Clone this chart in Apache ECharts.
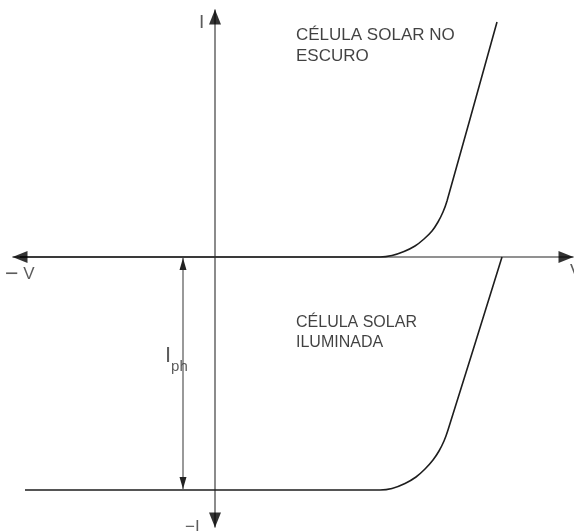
<!DOCTYPE html>
<html>
<head>
<meta charset="utf-8">
<script src="https://cdn.jsdelivr.net/npm/echarts@6/dist/echarts.min.js"></script>
<style>
  html, body { margin: 0; padding: 0; background: #fff; }
  #chart { width: 574px; height: 531px; }
</style>
</head>
<body>
<div id="chart"></div>
<script>
// Axis ranges (voltage V, current I) in arbitrary units
const vRange = [-202, 358];
const iRange = [-270, 247];

// I–V curve of the cell in the dark: [V, I]
const darkCurve = [
  [-195, 0], [165, 0], [177, 1.5], [189, 5.5], [200, 11], [209, 18],
  [217, 26], [223, 35], [228, 45], [232, 56], [282, 235]
];

// I–V curve of the illuminated cell: [V, I]
const litCurve = [
  [-190, -233], [165, -233], [177, -231.5], [190, -226.5], [201, -220],
  [210, -212], [218, -203], [224, -194], [229, -184], [233, -173], [287, 0]
];

// Photocurrent marker: position on the V axis and magnitude
const iphV = -32;
const iphValue = 233;

// Text annotations: [V, I, text, font size]
const labels = [
  [81, 232, 'CÉLULA SOLAR NO\nESCURO', 17],
  [81, -56, 'CÉLULA SOLAR\nILUMINADA', 16]
];

// Axis end labels: [V, I, rich text, font size]
const axisLabels = [
  [-16, 244, 'I', 19],
  [-210, -6, '{m|\u2212}{t| V}', 17],
  [355, -6, 'V', 18],
  [-30, -262, '\u2212I', 17]
];

const axisColor = '#6e6e6e';
const curveColor = '#1e1e1e';
const font = 'Liberation Sans, Arial, sans-serif';

const chart = echarts.init(document.getElementById('chart'));

const arrowSize = [12, 15];
const axisArrows = [
  { value: [vRange[0], 0], symbolRotate: 90, symbolOffset: [7, 0] },
  { value: [vRange[1], 0], symbolRotate: -90, symbolOffset: [-7, 0] },
  { value: [0, iRange[1]], symbolRotate: 0, symbolOffset: [0, 7] },
  { value: [0, iRange[0]], symbolRotate: 180, symbolOffset: [0, -7] }
];

const option = {
  animation: false,
  backgroundColor: '#fff',
  grid: { left: 13, right: 1, top: 10, bottom: 4 },
  xAxis: {
    type: 'value', min: vRange[0], max: vRange[1],
    axisLine: { show: true, onZero: true, lineStyle: { color: axisColor, width: 1.6 } },
    axisTick: { show: false }, axisLabel: { show: false }, splitLine: { show: false }
  },
  yAxis: {
    type: 'value', min: iRange[0], max: iRange[1],
    axisLine: { show: true, onZero: true, lineStyle: { color: axisColor, width: 1.6 } },
    axisTick: { show: false }, axisLabel: { show: false }, splitLine: { show: false }
  },
  series: [
    {
      name: 'escuro', type: 'line', data: darkCurve, smooth: 0.25,
      symbol: 'none', lineStyle: { color: curveColor, width: 1.6 }, z: 3
    },
    {
      name: 'iluminada', type: 'line', data: litCurve, smooth: 0.25,
      symbol: 'none', lineStyle: { color: curveColor, width: 1.6 }, z: 3
    },
    {
      name: 'Iph', type: 'line',
      data: [
        { value: [iphV, -1], symbol: 'triangle', symbolSize: [7, 12], symbolRotate: 0, symbolOffset: [0, 6] },
        { value: [iphV, -iphValue + 1], symbol: 'triangle', symbolSize: [7, 12], symbolRotate: 180, symbolOffset: [0, -6] }
      ],
      showSymbol: true, showAllSymbol: true,
      itemStyle: { color: '#222' },
      lineStyle: { color: axisColor, width: 1.4 }, z: 3
    },
    {
      name: 'eixos', type: 'scatter', clip: false, symbol: 'triangle', symbolSize: arrowSize,
      itemStyle: { color: '#000' }, data: axisArrows, z: 4
    },
    {
      name: 'textos', type: 'scatter', clip: false, symbolSize: 0,
      data: labels.map(d => ({
        value: [d[0], d[1]], name: d[2],
        label: { fontSize: d[3], lineHeight: d[3] + 4 }
      })),
      label: {
        show: true, position: 'inside', formatter: p => p.name,
        align: 'left', verticalAlign: 'top',
        fontFamily: font, color: '#111'
      },
      z: 5
    },
    {
      name: 'rotulos', type: 'scatter', clip: false, symbolSize: 0,
      data: axisLabels.map(d => ({
        value: [d[0], d[1]], name: d[2], label: { fontSize: d[3] }
      })),
      label: {
        show: true, position: 'inside', align: 'left', verticalAlign: 'top',
        formatter: p => p.name, fontFamily: font, color: '#333',
        rich: {
          m: { fontFamily: font, fontSize: 23, color: '#333', verticalAlign: 'middle' },
          t: { fontFamily: font, fontSize: 17, color: '#333', verticalAlign: 'middle' }
        }
      },
      z: 5
    },
    {
      name: 'iph-rotulo', type: 'scatter', clip: false, symbolSize: 0,
      data: [{ value: [-50, -88], name: 'Iph' }],
      label: {
        show: true, position: 'inside', align: 'left', verticalAlign: 'top',
        formatter: '{a|I}{b|ph}',
        rich: {
          a: { fontFamily: font, fontSize: 22, color: '#333', verticalAlign: 'top' },
          b: { fontFamily: font, fontSize: 15, color: '#333', verticalAlign: 'bottom', padding: [14, 0, 0, 0] }
        }
      },
      z: 5
    }
  ]
};

chart.setOption(option);
</script>
</body>
</html>
